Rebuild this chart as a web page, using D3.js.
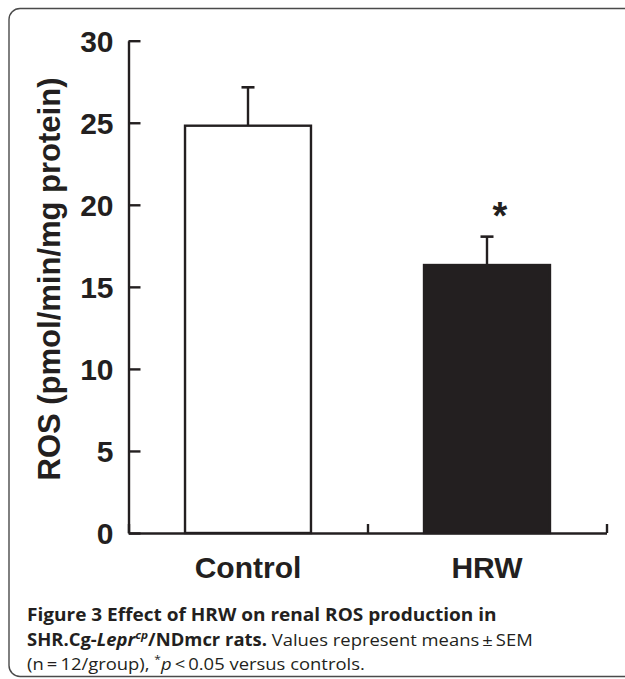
<!DOCTYPE html>
<html><head><meta charset="utf-8">
<script src="https://cdn.jsdelivr.net/npm/d3@7"></script>
<style>
html,body{margin:0;padding:0;background:#fff;}
svg{display:block;}
</style></head>
<body>
<svg id="chart" width="625" height="679"></svg>
<script>
const categories = ["Control", "HRW"];
const means = [24.82, 16.33];
const errors = [2.34, 1.73];
const fills = ["#ffffff", "#231f20"];
const significance = ["", "*"];
const yTicks = [0, 5, 10, 15, 20, 25, 30];
const yTitle = "ROS (pmol/min/mg protein)";

const ink = "#231f20";
const svg = d3.select("#chart");

// frame
svg.append("rect").attr("x", 9).attr("y", 8.5).attr("width", 700).attr("height", 668)
  .attr("rx", 11).attr("fill", "none").attr("stroke", "#4a4a4a").attr("stroke-width", 1.4);

const x0 = 128.5, x1 = 606.5, y0 = 533, y1 = 40.7;
const y = d3.scaleLinear().domain([0, 30]).range([y0, y1]);
const x = d3.scaleBand().domain(categories).range([x0, x1]).paddingInner(0.473).paddingOuter(0.2365);
const xb = d3.scaleLinear().domain([0, categories.length]).range([x0, x1]);

const font = "'Liberation Sans', Arial, Helvetica, sans-serif";

// bars
const g = svg.append("g");
g.selectAll("rect.bar").data(categories).join("rect")
  .attr("class", "bar")
  .attr("x", d => x(d)).attr("width", x.bandwidth())
  .attr("y", (d, i) => y(means[i])).attr("height", (d, i) => y(0) - y(means[i]))
  .attr("fill", (d, i) => fills[i]).attr("stroke", ink).attr("stroke-width", 2.4);

// error bars (upper only)
const capW = 13;
categories.forEach((c, i) => {
  const cx = x(c) + x.bandwidth() / 2;
  g.append("line").attr("x1", cx).attr("x2", cx)
    .attr("y1", y(means[i])).attr("y2", y(means[i] + errors[i]))
    .attr("stroke", ink).attr("stroke-width", 2.4);
  g.append("line").attr("x1", cx - capW / 2).attr("x2", cx + capW / 2)
    .attr("y1", y(means[i] + errors[i])).attr("y2", y(means[i] + errors[i]))
    .attr("stroke", ink).attr("stroke-width", 2.6);
  if (significance[i]) {
    g.append("text").attr("x", cx + 13).attr("y", y(means[i] + errors[i]) - 8)
      .attr("text-anchor", "middle").attr("font-family", font).attr("font-weight", "bold")
      .attr("font-size", 38).attr("fill", ink)
      .text(significance[i]);
  }
});

// y axis
const yAxis = svg.append("g").attr("transform", `translate(${x0},0)`)
  .call(d3.axisLeft(y).tickValues(yTicks).tickSizeInner(-12).tickSizeOuter(0).tickPadding(15));
yAxis.select(".domain").attr("stroke", ink).attr("stroke-width", 2.4);
yAxis.selectAll(".tick line").attr("stroke", ink).attr("stroke-width", 2.4);
yAxis.selectAll(".tick text").attr("font-family", font).attr("font-weight", "bold")
  .attr("font-size", 30).attr("fill", ink).attr("dy", "0.36em");

// x axis boundary ticks
const xAxis = svg.append("g").attr("transform", `translate(0,${y0})`)
  .call(d3.axisBottom(xb).tickValues(d3.range(categories.length + 1)).tickSizeInner(-9).tickSizeOuter(0).tickFormat(""));
xAxis.select(".domain").attr("stroke", ink).attr("stroke-width", 2.4);
xAxis.selectAll(".tick line").attr("stroke", ink).attr("stroke-width", 2.4);

// x labels
const xLab = svg.append("g").attr("transform", `translate(0,${y0})`)
  .call(d3.axisBottom(x).tickSize(0).tickPadding(0));
xLab.select(".domain").remove();
xLab.selectAll(".tick text").attr("font-family", font).attr("font-weight", "bold")
  .attr("font-size", 30).attr("fill", ink).attr("y", 45).attr("dy", 0);

// y title
svg.append("text").attr("transform", "translate(60,279) rotate(-90)")
  .attr("text-anchor", "middle").attr("font-family", font).attr("font-weight", "bold")
  .attr("font-size", 31).attr("fill", ink).text(yTitle);

// caption
const capFont = "'Open Sans', 'Noto Sans', sans-serif";
const capLines = [
  {y: 621, w: 470, parts: [{t: "Figure 3 Effect of HRW on renal ROS production in", b: true}]},
  {y: 645.5, w: 506, parts: [
    {t: "SHR.Cg-", b: true}, {t: "Lepr", b: true, i: true}, {t: "cp", b: true, i: true, sup: true},
    {t: "/NDmcr rats.", b: true}, {t: " Values represent means\u2009\u00b1\u2009SEM"}]},
  {y: 669.5, w: 338, parts: [
    {t: "(n\u2009=\u200912/group), "}, {t: "*", sup: true}, {t: "p", i: true},
    {t: "\u2009<\u20090.05 versus controls."}]}
];
capLines.forEach(L => {
  const grp = svg.append("g");
  const t = grp.append("text").attr("x", 0).attr("y", 0).attr("font-family", capFont)
    .attr("font-size", 17).attr("fill", ink);
  L.parts.forEach(p => {
    const ts = t.append("tspan").text(p.t)
      .attr("font-weight", p.b ? "bold" : "normal")
      .attr("font-style", p.i ? "italic" : "normal");
    if (p.sup) ts.attr("font-size", 11).attr("baseline-shift", "super");
  });
  const bw = t.node().getComputedTextLength();
  const s = L.w / bw;
  grp.attr("transform", `translate(27,${L.y}) scale(${s},1)`);
});
</script>
</body></html>
